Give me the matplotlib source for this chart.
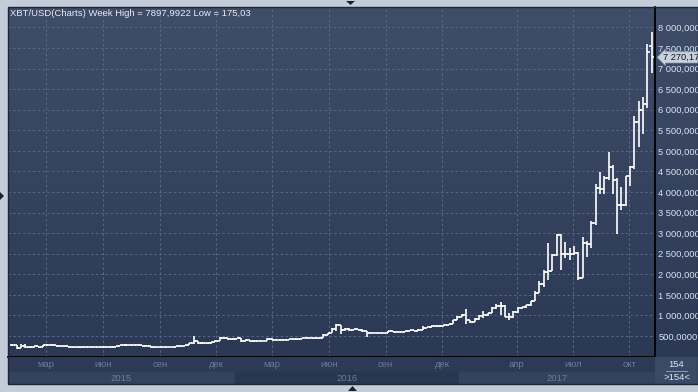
import matplotlib
matplotlib.use('Agg')
import matplotlib.pyplot as plt
import matplotlib.transforms as mtransforms
from matplotlib.colors import LinearSegmentedColormap
from matplotlib.patches import Polygon, Rectangle
import numpy as np
import pandas as pd

plt.rcParams['font.family'] = ['Liberation Sans', 'DejaVu Sans']

# weekly bars, XBT/USD
weeks = pd.date_range('2015-01-05', periods=149, freq='7D')

opens = [290, 275, 210, 255, 230, 228, 258, 240, 275, 290,
         285, 262, 248, 255, 236, 224, 226, 238, 241, 237,
         237, 225, 230, 234, 244, 250, 271, 292, 275, 290,
         282, 264, 259, 229, 229, 240, 230, 231, 240, 248,
         264, 284, 325, 385, 330, 330, 325, 360, 390, 455,
         440, 425, 430, 448, 382, 410, 378, 376, 372, 385,
         435, 410, 415, 415, 415, 418, 420, 425, 458, 445,
         455, 440, 445, 528, 574, 680, 760, 650, 675, 650,
         665, 655, 620, 585, 570, 580, 570, 575, 610, 608,
         600, 608, 615, 638, 632, 655, 700, 710, 740, 735,
         755, 770, 785, 890, 960, 1020, 880, 850, 915, 990,
         1000, 1050, 1180, 1230, 1240, 970, 965, 1080, 1190, 1200,
         1245, 1340, 1540, 1770, 2050, 2080, 2480, 2950, 2500, 2500,
         2500, 2520, 1920, 2750, 2730, 3250, 4100, 4080, 4350, 4600,
         4300, 3680, 3680, 4380, 4600, 5700, 6000, 6150, 7540]
highs = [300, 280, 300, 310, 245, 262, 262, 278, 300, 298,
         290, 268, 262, 262, 238, 237, 241, 245, 245, 242,
         242, 232, 238, 252, 252, 275, 310, 293, 292, 298,
         285, 272, 260, 232, 245, 245, 235, 243, 250, 265,
         290, 335, 502, 390, 345, 340, 365, 400, 465, 468,
         455, 440, 460, 450, 420, 412, 395, 390, 390, 445,
         442, 425, 420, 420, 425, 425, 430, 462, 465, 460,
         460, 455, 540, 580, 700, 780, 765, 700, 690, 680,
         670, 660, 625, 600, 585, 585, 580, 630, 615, 610,
         610, 618, 640, 640, 660, 740, 720, 750, 745, 760,
         780, 795, 900, 975, 1040, 1160, 900, 930, 1000, 1100,
         1060, 1200, 1290, 1330, 1260, 1070, 1100, 1200, 1215, 1260,
         1350, 1600, 1840, 2100, 2760, 2500, 2980, 2990, 2780, 2630,
         2680, 2550, 2900, 2800, 3300, 4200, 4480, 4400, 4980, 4650,
         4350, 4120, 4400, 4620, 5850, 6200, 6300, 7600, 7898]
lows = [268, 175, 205, 220, 212, 218, 230, 232, 268, 280,
        255, 236, 242, 232, 216, 220, 210, 228, 232, 232,
        224, 218, 227, 233, 240, 250, 265, 270, 272, 280,
        257, 255, 198, 200, 224, 228, 225, 228, 237, 245,
        262, 280, 310, 305, 315, 312, 318, 355, 385, 420,
        415, 410, 425, 360, 375, 365, 365, 368, 370, 380,
        395, 400, 385, 405, 405, 412, 415, 422, 440, 440,
        436, 438, 442, 520, 570, 630, 550, 620, 610, 640,
        650, 605, 480, 570, 565, 565, 565, 570, 600, 590,
        595, 605, 610, 625, 630, 650, 695, 690, 720, 725,
        750, 765, 780, 885, 950, 790, 820, 840, 900, 930,
        990, 1050, 1150, 1000, 950, 890, 940, 1070, 1160, 1190,
        1240, 1340, 1540, 1680, 1850, 2070, 2450, 2100, 2400, 2350,
        2480, 1850, 1900, 2420, 2650, 3200, 3950, 3950, 4300, 3950,
        2970, 3550, 3650, 4150, 4560, 5100, 5400, 6030, 6900]
closes = [275, 210, 255, 230, 228, 258, 240, 275, 290, 285,
          262, 248, 255, 236, 224, 226, 238, 241, 237, 237,
          225, 230, 234, 244, 250, 271, 292, 275, 290, 282,
          264, 259, 229, 229, 240, 230, 231, 240, 248, 264,
          284, 325, 385, 330, 330, 325, 360, 390, 455, 440,
          425, 430, 448, 382, 410, 378, 376, 372, 385, 435,
          410, 415, 415, 415, 418, 420, 425, 458, 445, 455,
          440, 445, 528, 574, 680, 760, 650, 675, 650, 665,
          655, 620, 585, 570, 580, 570, 575, 610, 608, 600,
          608, 615, 638, 632, 655, 700, 710, 740, 735, 755,
          770, 785, 890, 960, 1020, 880, 850, 915, 990, 1000,
          1050, 1180, 1230, 1240, 970, 965, 1080, 1190, 1200, 1245,
          1340, 1540, 1770, 2050, 2080, 2480, 2950, 2500, 2500, 2500,
          2520, 1920, 2750, 2730, 3250, 4100, 4080, 4350, 4600, 4300,
          3680, 3680, 4380, 4600, 5700, 6000, 6150, 7400, 7270.17]

month_starts = ['2015-03-01', '2015-06-01', '2015-09-01', '2015-12-01',
                '2016-03-01', '2016-06-01', '2016-09-01', '2016-12-01',
                '2017-04-01', '2017-07-01', '2017-10-01']
month_labels = ['мар', 'июн', 'сен', 'дек', 'мар', 'июн', 'сен', 'дек',
                'апр', 'июл', 'окт']
years = [2015, 2016, 2017]

ytick_values = [500, 1000, 1500, 2000, 2500, 3000, 3500, 4000,
                4500, 5000, 5500, 6000, 6500, 7000, 7500, 8000]
ytick_labels = ['500,0000', '1 000,000', '1 500,000', '2 000,000', '2 500,000',
                '3 000,000', '3 500,000', '4 000,000', '4 500,000', '5 000,000',
                '5 500,000', '6 000,000', '6 500,000', '7 000,000', '7 500,000',
                '8 000,000']

title = 'XBT/USD(Charts) Week High = 7897,9922 Low = 175,03'
last_label = '7 270,17'
bar_count = ['154', '>154<']

W, H = 698, 392


def box(x0, y0, x1, y1):
    return [x0 / W, 1 - y1 / H, (x1 - x0) / W, (y1 - y0) / H]


fig = plt.figure(figsize=(W / 100, H / 100), dpi=100, facecolor='#c3cdda')

# gradient background (plot + price column)
bg = fig.add_axes(box(8, 7, 698, 357))
grad = LinearSegmentedColormap.from_list('g', ['#3f4d68', '#2b3955'])
bg.imshow(np.linspace(0, 1, 256).reshape(-1, 1), aspect='auto', cmap=grad,
          extent=[0, 1, 0, 1])
bg.axis('off')

ax = fig.add_axes(box(8, 7, 655, 357))
ax.set_facecolor('none')

t0 = weeks[0]
x = np.asarray((weeks - t0).days / 7.0)
o = np.array(opens)
h = np.array(highs)
l = np.array(lows)
c = np.array(closes)

ax.vlines(x, l, h, color='white', lw=1.2)
ax.hlines(o, x - 0.6, x, color='white', lw=1.2)
ax.hlines(c, x, x + 0.6, color='white', lw=1.2)

xmin, xmax = -1.0, 148.76
ax.set_xlim(xmin, xmax)
ax.set_ylim(-10, 8495)

mx = [(pd.Timestamp(m) - t0).days / 7.0 for m in month_starts]
ax.set_xticks(mx)
ax.set_xticklabels([])
ax.yaxis.tick_right()
ax.set_yticks(ytick_values)
ax.set_yticklabels(ytick_labels)
ax.tick_params(axis='both', length=0)
ax.tick_params(axis='y', pad=2.5, labelsize=6.7, labelcolor='#d8e3f3')
ax.grid(True, color='#56678a', ls=(0, (2.5, 2.5)), lw=0.7)
ax.set_axisbelow(True)
for s in ['top', 'left']:
    ax.spines[s].set_visible(False)
for s in ['right', 'bottom']:
    ax.spines[s].set_color('black')
    ax.spines[s].set_linewidth(1.3)

fig.text(10 / W, 1 - 14 / H, title, fontsize=6.8, color='#e6ecf5', va='center')

# last price marker
trans = mtransforms.blended_transform_factory(ax.transAxes, ax.transData)
ax.text(1 + 8 / 647, c[-1], last_label, transform=trans, fontsize=6.7,
        color='#121722', va='center', ha='left', clip_on=False,
        bbox=dict(boxstyle='larrow,pad=0.12', fc='#c9d1dd', ec='#7f8ea6', lw=0.5))

# date band
bax = fig.add_axes(box(8, 357, 655, 384))
bax.set_xlim(xmin, xmax)
bax.set_ylim(0, 1)
bax.axis('off')
bax.axhspan(0.44, 1, color='#2c3a56')
year_of = np.array([d.year for d in weeks])
edges = [xmin]
for yr in years[1:]:
    edges.append(x[np.argmax(year_of == yr)] - 0.5)
edges.append(xmax)
for i, yr in enumerate(years):
    bax.axvspan(edges[i], edges[i + 1], 0, 0.44,
                color='#33425e' if i % 2 == 0 else '#29364f')
    bax.text((edges[i] + edges[i + 1]) / 2, 0.2, str(yr), ha='center', va='center',
             fontsize=6.8, color='#6c7b97')
for xm, lab in zip(mx, month_labels):
    bax.text(xm, 0.72, lab, ha='center', va='center', fontsize=6.8, color='#6c7b97')

# bar counter box
cax = fig.add_axes(box(655, 357, 698, 384))
cax.set_xlim(0, 1)
cax.set_ylim(0, 1)
cax.axis('off')
cax.axhspan(0, 1, color='#3a4966')
cax.text(0.5, 0.74, bar_count[0], ha='center', va='center', fontsize=6.8, color='#dde6f3')
cax.text(0.5, 0.24, bar_count[1], ha='center', va='center', fontsize=6.8, color='#dde6f3')
cax.plot([0.25, 0.75], [0.47, 0.47], color='#9aa8be', lw=0.6)

# frame and small arrows
fig.add_artist(Rectangle((8 / W, 1 - 384 / H), 690 / W, 377 / H, transform=fig.transFigure,
                         fill=False, ec='#1d2536', lw=1))


def tri(pts):
    fig.add_artist(Polygon([(px / W, 1 - py / H) for px, py in pts], closed=True,
                           transform=fig.transFigure, fc='#1b2130', ec='none'))


tri([(346, 1), (355, 1), (350.5, 5)])
tri([(348, 391), (357, 391), (352.5, 386)])
tri([(0, 192), (0, 200), (4, 196)])

fig.savefig('out.png', dpi=100, facecolor=fig.get_facecolor())
